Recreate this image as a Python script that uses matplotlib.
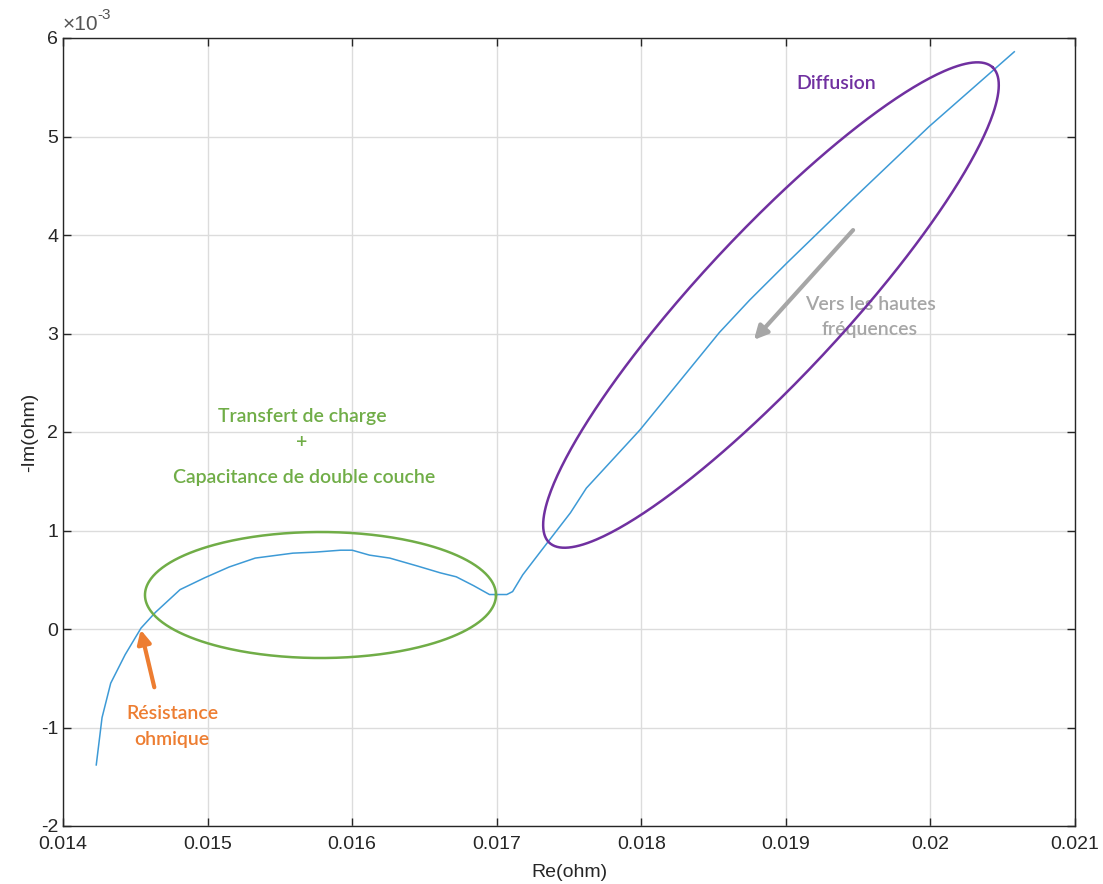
import numpy as np
import matplotlib
matplotlib.use("Agg")
import matplotlib.pyplot as plt
from matplotlib.ticker import FuncFormatter

plt.rcParams["font.family"] = ["Liberation Sans", "DejaVu Sans"]
plt.rcParams["axes.unicode_minus"] = False

# Nyquist data (Re in ohm, -Im in ohm)
re_ohm = [0.01423, 0.01427, 0.01433, 0.01443, 0.01454, 0.01464, 0.01481, 0.01498,
          0.01515, 0.01533, 0.01559, 0.01574, 0.01592, 0.01600, 0.01612, 0.01626,
          0.01645, 0.01661, 0.01672, 0.01684, 0.01695, 0.01707, 0.01711, 0.01718,
          0.01730, 0.01751, 0.01762, 0.01799, 0.01854, 0.01875, 0.01901, 0.01946,
          0.01999, 0.02058]
neg_im_milli = [-1.38, -0.90, -0.55, -0.26, 0.01, 0.17, 0.40, 0.52,
                0.63, 0.72, 0.77, 0.78, 0.80, 0.80, 0.75, 0.72,
                0.64, 0.57, 0.53, 0.44, 0.35, 0.35, 0.38, 0.55,
                0.78, 1.18, 1.43, 2.02, 3.01, 3.34, 3.72, 4.36,
                5.10, 5.86]

x_ticks = [0.014, 0.015, 0.016, 0.017, 0.018, 0.019, 0.020, 0.021]
x_tick_labels = ["0.014", "0.015", "0.016", "0.017", "0.018", "0.019", "0.02", "0.021"]
y_ticks = [-2e-3, -1e-3, 0, 1e-3, 2e-3, 3e-3, 4e-3, 5e-3, 6e-3]

# annotation regions: centre (Re, -Im), semi-axes in px, angle in degrees
green_zone = dict(cx=0.015781, cy=0.345e-3, a=175.5, b=63, ang=0)
purple_zone = dict(cx=0.018897, cy=3.289e-3, a=325, b=72, ang=47)

W, H = 1103, 884
fig = plt.figure(figsize=(W / 100, H / 100), dpi=100)
ax = fig.add_axes([63 / W, (H - 826) / H, (1075 - 63) / W, (826 - 38) / H])

ax.set_xlim(0.014, 0.021)
ax.set_ylim(-2e-3, 6e-3)

# px -> data scale for this axes
sx = 0.007 / (1075 - 63)
sy = 8e-3 / (826 - 38)


def zone_outline(z):
    t = np.linspace(0, 2 * np.pi, 400)
    th = np.deg2rad(z["ang"])
    u = z["a"] * np.cos(t)
    v = z["b"] * np.sin(t)
    px = u * np.cos(th) - v * np.sin(th)
    py = u * np.sin(th) + v * np.cos(th)
    return z["cx"] + px * sx, z["cy"] + py * sy


ax.plot(re_ohm, np.array(neg_im_milli) * 1e-3, color="#3d9ad6", lw=1.1, zorder=3)

gx, gy = zone_outline(green_zone)
ax.plot(gx, gy, color="#70AD47", lw=1.8, zorder=4)
px_, py_ = zone_outline(purple_zone)
ax.plot(px_, py_, color="#7030A0", lw=1.8, zorder=4)

ax.set_xticks(x_ticks)
ax.set_xticklabels(x_tick_labels)
ax.set_yticks(y_ticks)
ax.yaxis.set_major_formatter(FuncFormatter(lambda v, pos: f"{v * 1e3:g}"))

# MATLAB-style exponent above the y axis
ax.text(0.0, 1.005, "\u00d710", transform=ax.transAxes, fontsize=15,
        color="#555555", ha="left", va="bottom")
ax.text(0.0335, 1.02, "-3", transform=ax.transAxes, fontsize=11,
        color="#555555", ha="left", va="bottom")

ax.grid(True, color="#dcdcdc", lw=1)
ax.set_axisbelow(True)
ax.tick_params(direction="in", top=True, right=True, length=6, width=1,
               labelsize=14, colors="#262626")
ax.tick_params(axis="x", pad=7)
for s in ax.spines.values():
    s.set_color("#262626")
    s.set_linewidth(1)

ax.set_xlabel("Re(ohm)", fontsize=14, color="#262626", labelpad=8)
ax.set_ylabel("-Im(ohm)", fontsize=14, color="#262626", labelpad=2)

annot_font = ["Lato", "DejaVu Sans"]
ax.text(0.019347, 5.533e-3, "Diffusion", color="#7030A0", fontsize=14,
        family=annot_font, fontweight="semibold", ha="center", va="center")
ax.text(0.019582, 3.17e-3, "Vers les hautes\nfréquences", color="#A6A6A6",
        fontsize=14, family=annot_font, fontweight="semibold", ha="center",
        va="center", linespacing=1.55, zorder=2)
ax.annotate("", xy=(0.018766, 2.914e-3), xytext=(0.019478, 4.071e-3),
            arrowprops=dict(arrowstyle="-|>", color="#A6A6A6", lw=3,
                            mutation_scale=20))
ax.text(0.015653, 2.162e-3, "Transfert de charge", color="#70AD47",
        fontsize=14, family=annot_font, fontweight="semibold", ha="center", va="center")
ax.text(0.015653, 1.898e-3, "+", color="#70AD47",
        fontsize=14, family=annot_font, fontweight="semibold", ha="center", va="center")
ax.text(0.015667, 1.533e-3, "Capacitance de double couche", color="#70AD47",
        fontsize=14, family=annot_font, fontweight="semibold", ha="center", va="center")
ax.text(0.014754, -0.99e-3, "Résistance\nohmique", color="#ED7D31",
        fontsize=14, family=annot_font, fontweight="semibold", ha="center",
        va="center", linespacing=1.6)
ax.annotate("", xy=(0.014533, 0.02e-3), xytext=(0.014636, -0.619e-3),
            arrowprops=dict(arrowstyle="-|>", color="#ED7D31", lw=3,
                            mutation_scale=20))

fig.savefig("out.png", dpi=100)
